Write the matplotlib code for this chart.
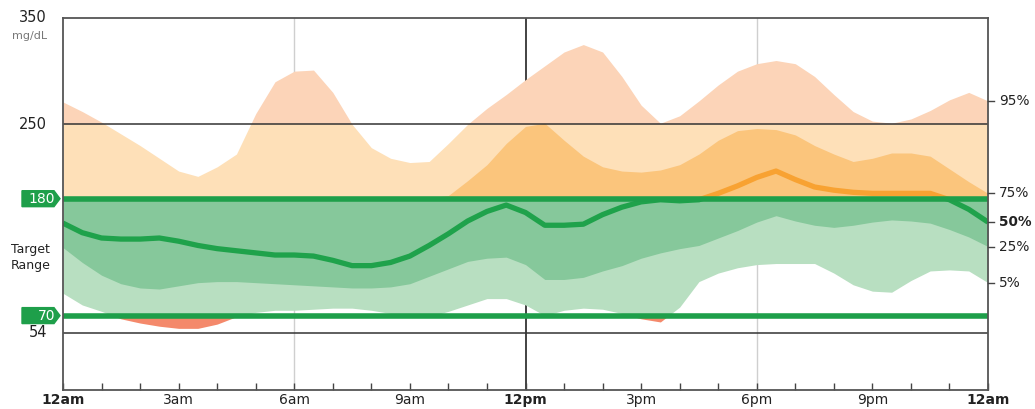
import matplotlib
matplotlib.use("Agg")
import matplotlib.pyplot as plt
from matplotlib.patches import Rectangle, Polygon
import numpy as np

hours = np.arange(0, 24.01, 0.5)

p95 = [271, 262, 252, 241, 230, 218, 206, 201, 210, 222, 260, 290, 300, 301, 280, 250,
       228, 218, 214, 215, 232, 250, 265, 278, 292, 305, 318, 325, 318, 295, 268, 251,
       258, 272, 287, 300, 307, 310, 307, 295, 278, 262, 253, 251, 255, 263, 273, 280, 272]
p75 = [181, 181, 181, 181, 181, 181, 181, 181, 181, 181, 181, 181, 181, 181, 181, 181,
       181, 181, 181, 181, 183, 197, 212, 232, 248, 251, 235, 220, 210, 206, 205, 207,
       212, 222, 235, 244, 246, 245, 240, 230, 222, 215, 218, 223, 223, 220, 208, 196, 185]
p50 = [157, 148, 143, 142, 142, 143, 140, 136, 133, 131, 129, 127, 127, 126, 122, 117,
       117, 120, 126, 136, 147, 159, 168, 174, 167, 155, 155, 156, 165, 172, 177, 179,
       178, 179, 185, 192, 200, 206, 198, 191, 188, 186, 185, 185, 185, 185, 179, 170, 158]
p25 = [134, 120, 108, 100, 96, 95, 98, 101, 102, 102, 101, 100, 99, 98, 97, 96,
       96, 97, 100, 107, 114, 121, 124, 125, 118, 104, 104, 106, 112, 117, 124, 129,
       133, 136, 143, 150, 158, 164, 159, 155, 153, 155, 158, 160, 159, 157, 151, 144, 135]
p5 = [91, 80, 74, 67, 63, 60, 58, 58, 62, 69, 73, 75, 75, 76, 77, 77,
      75, 72, 69, 69, 74, 80, 86, 86, 80, 70, 75, 77, 76, 72, 67, 64,
      78, 102, 110, 115, 118, 119, 119, 119, 110, 99, 93, 92, 103, 112, 113, 112, 101]

tick_pos = [0, 3, 6, 9, 12, 15, 18, 21, 24]
tick_labels = ["12am", "3am", "6am", "9am", "12pm", "3pm", "6pm", "9pm", "12am"]
bold_labels = {"12am", "12pm"}
ylabels_left = [350, 250, 54]
target_low, target_high = 70, 180
very_high = 250
pct_names = ["95%", "75%", "50%", "25%", "5%"]

W, H = 1035, 409
fig = plt.figure(figsize=(W / 100, H / 100), dpi=100)
ax = fig.add_axes([63 / W, 1 - 390 / H, (988 - 63) / W, (390 - 18) / H])
ax.set_xlim(0, 24)
ax.set_ylim(0, 350)

# background vertical guides (under bands)
for h, c in [(6, "#cfcfcf"), (18, "#cfcfcf"), (12, "#222222")]:
    ax.axvline(h, color=c, lw=1.2 if h == 12 else 1.0, zorder=0.5)

def clip_rect(y0, y1):
    return Rectangle((0, y0), 24, y1 - y0, transform=ax.transData)

x = hours
bands = [
    (p5, p95, [(250, 400, "#fcd4b8"), (180, 250, "#fee0b8"), (70, 180, "#b8dfc1"), (-10, 70, "#f4896b")]),
    (p25, p75, [(180, 400, "#fbc57c"), (70, 180, "#86c89b")]),
]
for lo, hi, regions in bands:
    for y0, y1, col in regions:
        pc = ax.fill_between(x, lo, hi, color=col, lw=0, zorder=1)
        pc.set_clip_path(clip_rect(y0, y1))

# median line
l1, = ax.plot(x, p50, color="#1fa24b", lw=3.8, zorder=3, solid_joinstyle="round",
              solid_capstyle="butt")
l1.set_clip_path(clip_rect(-10, target_high))
l2, = ax.plot(x, p50, color="#f8a232", lw=3.8, zorder=3, solid_joinstyle="round",
              solid_capstyle="butt")
l2.set_clip_path(clip_rect(target_high, 400))

# horizontal reference lines
ax.axhline(very_high, color="#333333", lw=1.1, zorder=4)
ax.axhline(54, color="#333333", lw=1.1, zorder=4)
ax.axhline(target_high, color="#1e9f4a", lw=4, zorder=4)
ax.axhline(target_low, color="#1e9f4a", lw=4, zorder=4)

for s in ax.spines.values():
    s.set_color("#555555")
    s.set_linewidth(1.3)
    s.set_zorder(5)

ax.set_xticks(np.arange(0, 25, 1))
ax.set_xticklabels([])
ax.tick_params(axis="x", direction="in", length=5, width=1.0, color="#444444")
ax.set_yticks([])

for tp, tl in zip(tick_pos, tick_labels):
    ax.text(tp, -0.007, tl, transform=ax.get_xaxis_transform(), ha="center", va="top",
            fontsize=10, fontweight="bold" if tl in bold_labels else "normal",
            color="#222222")

# left labels
for v in ylabels_left:
    ax.text(-0.42, v, str(v), ha="right", va="center", fontsize=10.5, color="#222222", clip_on=False)
ax.text(-0.42, 350 - 17, "mg/dL", ha="right", va="center", fontsize=8, color="#777777", clip_on=False)
ax.text(-0.84, 125, "Target\nRange", ha="center", va="center", fontsize=9, color="#222222",
        linespacing=1.3, clip_on=False)

# green tags
for v in [target_high, target_low]:
    trans = ax.get_yaxis_transform()
    xl, xr, tip = -41 / 925, -3 / 925, 6 / 925
    hh = 7.5
    poly = Polygon([(xl, v - hh), (xr - tip, v - hh), (xr, v), (xr - tip, v + hh), (xl, v + hh)],
                   closed=True, transform=trans, color="#1e9f4a", clip_on=False, zorder=6)
    ax.add_patch(poly)
    ax.text(-8 / 925, v, str(v), transform=trans, ha="right", va="center", fontsize=10,
            color="white", clip_on=False, zorder=7)

# right percentile labels
ends = [p95[-1], p75[-1], p50[-1], p25[-1], p5[-1]]
for name, v in zip(pct_names, ends):
    ax.plot([24, 24.15], [v, v], color="#444444", lw=1, clip_on=False, zorder=6)
    ax.text(24.28, v, name, ha="left", va="center", fontsize=9.8,
            fontweight="bold" if name == "50%" else "normal", color="#222222", clip_on=False)

fig.savefig("out.png", dpi=100)
